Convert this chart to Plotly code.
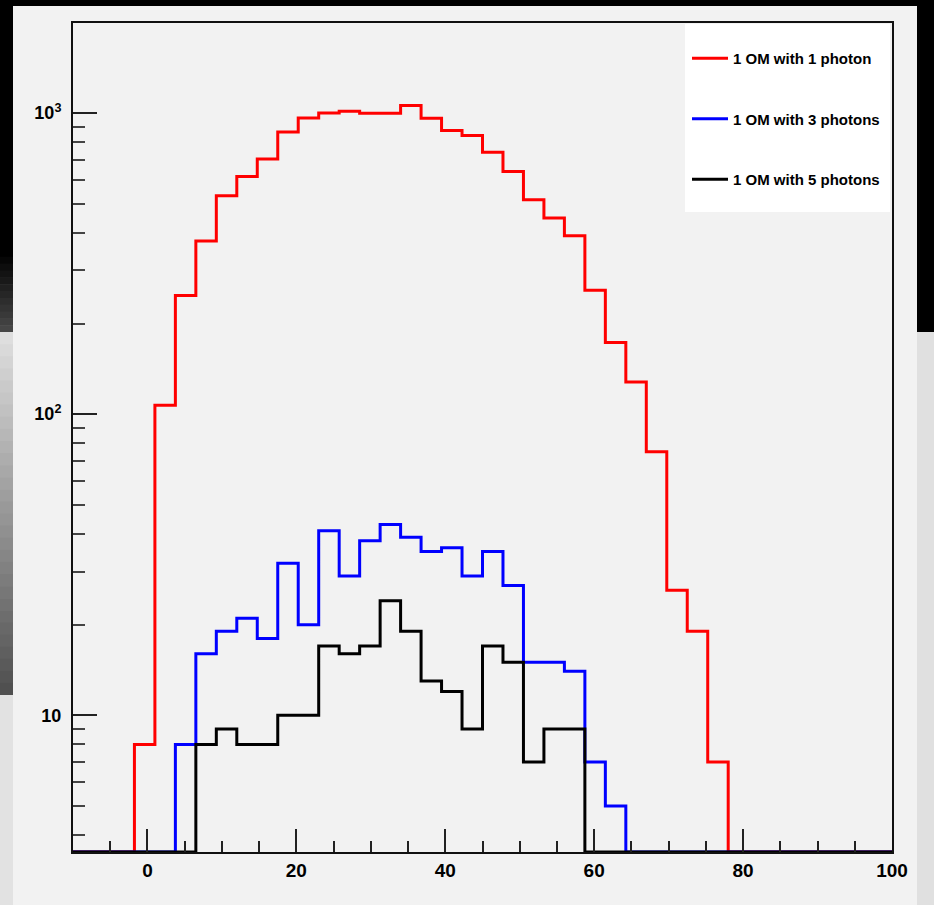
import numpy as np
import plotly.graph_objects as go

# ---- data (40 bins of width 2.75 over [-10, 100]) ----
x_min, x_max, n_bins = -10.0, 100.0, 40
red_1photon = [0, 0, 0, 8, 107, 248, 376, 531, 615, 703, 865, 962, 1000, 1013, 998, 998,
               1059, 961, 875, 842, 741, 640, 515, 448, 391, 258, 173, 128, 75, 26, 19, 7,
               0, 0, 0, 0, 0, 0, 0, 0]
blue_3photons = [0, 0, 0, 0, 0, 8, 16, 19, 21, 18, 32, 20, 41, 29, 38, 43, 39, 35, 36, 29,
                 35, 27, 15, 15, 14, 7, 5, 0, 0, 0, 0, 0, 0, 0, 0, 0, 0, 0, 0, 0]
black_5photons = [0, 0, 0, 0, 0, 0, 8, 9, 8, 8, 10, 10, 17, 16, 17, 24, 19, 13, 12, 9,
                  17, 15, 7, 9, 9, 0, 0, 0, 0, 0, 0, 0, 0, 0, 0, 0, 0, 0, 0, 0]
series_names = ["1 OM with 1 photon", "1 OM with 3 photons", "1 OM with 5 photons"]
x_tick_vals = [0, 20, 40, 60, 80, 100]
y_tick_vals = [10, 100, 1000]
y_tick_text = ["10", "10<sup>2</sup>", "10<sup>3</sup>"]

# ---- layout geometry ----
W, H = 934, 905
L, R, T, B = 73, 42, 23, 53
PW, PH = W - L - R, H - T - B
y_log_range = [0.546, 3.299]
y_floor = 10 ** y_log_range[0]

def px(x):
    return (x - L) / PW

def py(y):
    return (H - B - y) / PH

edges = np.linspace(x_min, x_max, n_bins + 1)

fig = go.Figure()
colors = ["#ff0000", "#0000ff", "#000000"]
for name, vals, col in zip(series_names, [red_1photon, blue_3photons, black_5photons], colors):
    v = [max(c, y_floor) for c in vals]
    v = v + [v[-1]]
    fig.add_trace(go.Scatter(
        x=edges, y=v, mode="lines", line=dict(color=col, width=3, shape="hv"),
        name=name, legendgroup=name, hoverinfo="skip"))

shapes = []
def rect(x0, y0, x1, y1, color, layer="below"):
    shapes.append(dict(type="rect", xref="paper", yref="paper",
                       x0=px(x0), x1=px(x1), y0=py(y1), y1=py(y0),
                       fillcolor=color, line=dict(width=0), layer=layer))

def grad(x0, y0, x1, y1, c0, c1, n=24):
    for i in range(n):
        a = i / (n - 1)
        g = int(round(c0 + (c1 - c0) * a))
        ya = y0 + (y1 - y0) * i / n
        yb = y0 + (y1 - y0) * (i + 1) / n + 0.6
        rect(x0, ya, x1, yb, f"rgb({g},{g},{g})")

# backdrop around canvas
rect(0, 0, W, 6, "#000000")
rect(0, 0, 13, 250, "#000000")
grad(0, 250, 13, 332, 0, 70, n=12)
grad(0, 332, 13, 695, 222, 80, n=30)
rect(0, 695, 13, H, "#e2e2e2")
rect(917, 0, W, 332, "#000000")
rect(917, 332, W, H, "#e0e0e0")
# legend box
rect(685, 24, 890, 212, "#ffffff", layer="above")

minor_y = [m * 10 ** d for d in range(0, 4) for m in range(2, 10)
           if y_log_range[0] < np.log10(m * 10 ** d) < y_log_range[1]]

font_family = "Liberation Sans, Arial, Helvetica, sans-serif"

fig.update_layout(
    width=W, height=H,
    margin=dict(l=L, r=R, t=T, b=B),
    paper_bgcolor="#f2f2f2", plot_bgcolor="#f2f2f2",
    shapes=shapes,
    showlegend=True,
    legend=dict(x=px(687), y=py(42), xanchor="left", yanchor="top",
                bgcolor="rgba(0,0,0,0)", borderwidth=0,
                font=dict(family=font_family, size=15, color="#000000", weight="bold"),
                tracegroupgap=38, itemwidth=36, traceorder="grouped"),
    xaxis=dict(range=[x_min, x_max], tickmode="array", tickvals=x_tick_vals,
               ticks="inside", ticklen=23, tickwidth=1.5, tickcolor="#222222",
               minor=dict(dtick=5, tick0=0, ticks="inside", ticklen=11, tickwidth=1.5,
                          tickcolor="#222222"),
               showline=True, linewidth=2, linecolor="#111111", mirror=True,
               showgrid=False, zeroline=False,
               tickfont=dict(family=font_family, size=19, color="#000000", weight="bold")),
    yaxis=dict(type="log", range=y_log_range, tickmode="array", tickvals=y_tick_vals,
               ticktext=y_tick_text,
               ticks="inside", ticklen=24, tickwidth=1.5, tickcolor="#222222",
               minor=dict(tickvals=minor_y, ticks="inside", ticklen=12, tickwidth=2,
                          tickcolor="#444444"),
               showline=True, linewidth=2, linecolor="#111111", mirror=True,
               showgrid=False, zeroline=False, ticklabelstandoff=6,
               tickfont=dict(family=font_family, size=18, color="#000000", weight="bold")),
)

fig.write_html("out.html", config={"displayModeBar": False},
               post_script="document.body.style.margin='0px';")
